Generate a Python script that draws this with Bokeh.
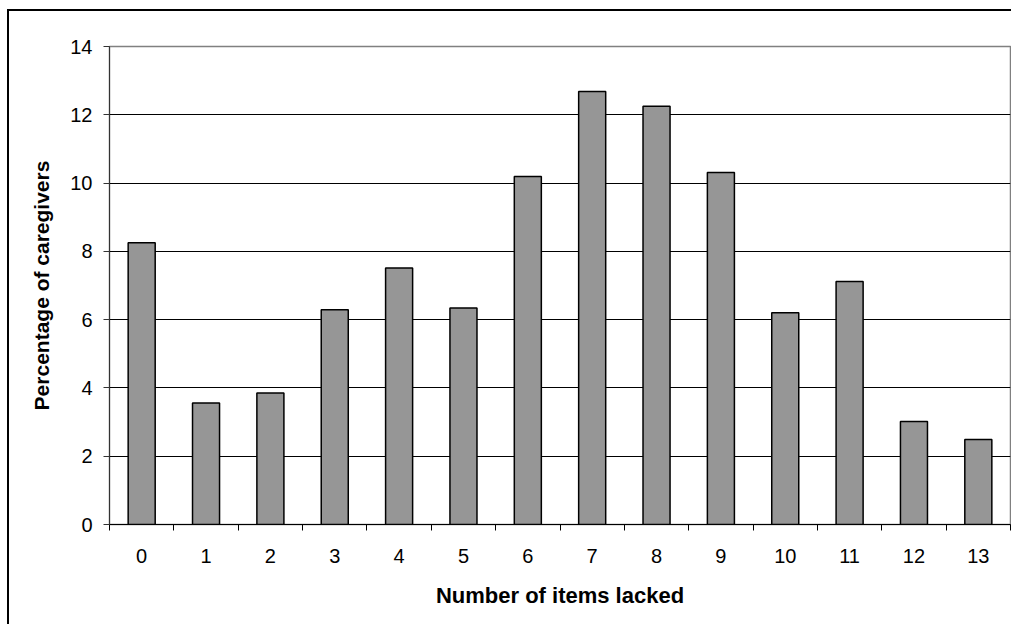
from bokeh.plotting import figure
from bokeh.models import Range1d, FixedTicker, ColumnDataSource
from bokeh.embed import file_html
from bokeh.resources import INLINE

items = list(range(14))
item_labels = [str(i) for i in items]
percent = [8.25, 3.56, 3.85, 6.29, 7.51, 6.34, 10.19, 12.68, 12.25, 10.31, 6.2, 7.12, 3.02, 2.49]
y_ticks = [0, 2, 4, 6, 8, 10, 12, 14]

src = ColumnDataSource(dict(x=items, top=percent))

p = figure(width=1002, height=615, output_backend="svg", toolbar_location=None,
           x_range=Range1d(-0.5, 13.5), y_range=Range1d(0, 14),
           frame_width=901, frame_height=478,
           min_border_left=100, min_border_top=35, min_border_right=1, min_border_bottom=100)
p.vbar(x="x", top="top", width=0.42, bottom=0, source=src,
       fill_color="#969696", line_color="black", line_width=1.5)

FONT = "Liberation Sans"
p.xaxis.ticker = FixedTicker(ticks=items, minor_ticks=[i - 0.5 for i in range(15)])
p.xaxis.major_label_overrides = {i: s for i, s in zip(items, item_labels)}
p.xaxis.major_tick_out = 0
p.xaxis.major_tick_in = 0
p.xaxis.minor_tick_out = 6
p.xaxis.minor_tick_in = 0
p.xaxis.minor_tick_line_color = "black"
p.xaxis.major_label_standoff = 18
p.xaxis.axis_line_color = "black"
p.xaxis.axis_label = "Number of items lacked"
p.xaxis.axis_label_standoff = 17

p.yaxis.ticker = FixedTicker(ticks=y_ticks, minor_ticks=[])
p.yaxis.major_tick_out = 6
p.yaxis.major_tick_in = 0
p.yaxis.major_tick_line_color = "#333333"
p.yaxis.major_label_standoff = 11
p.yaxis.axis_line_color = "#333333"
p.yaxis.axis_label = "Percentage of caregivers"
p.yaxis.axis_label_standoff = 14

for ax in (p.xaxis, p.yaxis):
    ax.major_label_text_font = FONT
    ax.major_label_text_font_size = "20px"
    ax.major_label_text_color = "black"
    ax.axis_label_text_font = FONT
    ax.axis_label_text_font_style = "bold"
    ax.axis_label_text_color = "black"
p.xaxis.axis_label_text_font_size = "22px"
p.yaxis.axis_label_text_font_size = "21px"

p.xgrid.grid_line_color = None
p.ygrid.ticker = FixedTicker(ticks=y_ticks)
p.ygrid.grid_line_color = "black"
p.ygrid.grid_line_width = 1
p.outline_line_color = "#808080"
p.outline_line_width = 1.5
p.background_fill_color = "white"
p.border_fill_color = "white"
p.styles = {"border-top": "2px solid black", "border-left": "2px solid black",
            "margin-top": "9px", "margin-left": "7px"}

open("out.html", "w").write(file_html(p, INLINE))
